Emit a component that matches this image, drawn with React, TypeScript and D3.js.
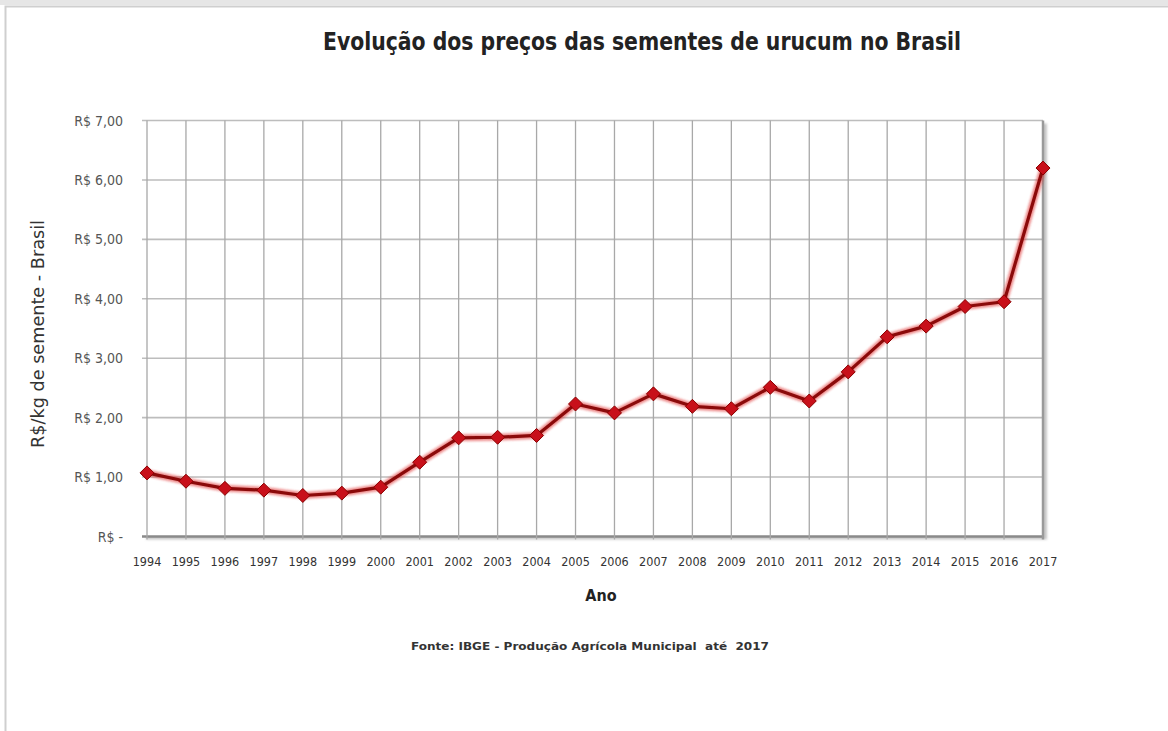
import React from "react";
import * as d3 from "d3";

const years: string[] = [
  "1994","1995","1996","1997","1998","1999","2000","2001","2002","2003","2004","2005",
  "2006","2007","2008","2009","2010","2011","2012","2013","2014","2015","2016","2017",
];
const prices: number[] = [
  1.07, 0.93, 0.81, 0.78, 0.69, 0.73, 0.83, 1.25, 1.66, 1.67, 1.70, 2.23,
  2.08, 2.40, 2.19, 2.15, 2.51, 2.28, 2.77, 3.36, 3.54, 3.87, 3.95, 6.20,
];
const yTicks: number[] = [0, 1, 2, 3, 4, 5, 6, 7];

const title = "Evolução dos preços das sementes de urucum no Brasil";
const yTitle = "R$/kg de semente - Brasil";
const xTitle = "Ano";
const source = "Fonte: IBGE - Produção Agrícola Municipal  até  2017";

const W = 1168;
const H = 731;
const plotLeft = 142;
const plotRight = 1043;
const plotTop = 120.5;
const plotBottom = 536.5;

function fmt(v: number): string {
  if (v === 0) return "R$ -";
  return "R$ " + v.toFixed(2).replace(".", ",");
}

export default function App() {
  const x = d3.scalePoint<string>().domain(years).range([147, 1043]);
  const y = d3.scaleLinear().domain([0, 7]).range([plotBottom, plotTop]);
  const line = d3
    .line<number>()
    .x((_, i) => x(years[i]) as number)
    .y((d) => y(d));
  const path = line(prices) || "";
  const font = "'Liberation Sans Narrow', 'DejaVu Sans Condensed', 'Open Sans', sans-serif";
  const diamond = (cx: number, cy: number, r: number) =>
    `M${cx},${cy - r}L${cx + r},${cy}L${cx},${cy + r}L${cx - r},${cy}Z`;

  return (
    <svg
      width={W}
      height={H}
      style={{ position: "absolute", left: 0, top: 0, background: "#fff" }}
    >
      <defs>
        <filter id="glow" x="-20%" y="-20%" width="140%" height="140%">
          <feGaussianBlur stdDeviation="1.2" />
        </filter>
      </defs>
      {/* outer frame */}
      <rect x={0} y={0} width={W} height={5} fill="#e6e6e6" />
      <rect x={5.5} y={6.5} width={W + 10} height={H + 10} fill="none" stroke="#cfcfcf" strokeWidth={2} />

      {/* title */}
      <text
        x={642}
        y={50}
        textAnchor="middle"
        fontFamily={font}
        fontWeight="bold"
        fontSize={24}
        fill="#222"
        textLength={638}
        lengthAdjust="spacingAndGlyphs"
      >
        {title}
      </text>

      {/* plot shadow */}
      <rect x={plotLeft + 4} y={plotTop + 3} width={plotRight - plotLeft} height={plotBottom - plotTop} fill="#c8c8c8" filter="url(#glow)" />
      <rect x={plotLeft} y={plotTop} width={plotRight - plotLeft} height={plotBottom - plotTop} fill="#fff" />

      {/* horizontal grid */}
      {yTicks.map((t) => (
        <line
          key={"h" + t}
          x1={plotLeft}
          x2={plotRight}
          y1={y(t)}
          y2={y(t)}
          stroke={t === 0 ? "#8a8a8a" : "#bdbdbd"}
          strokeWidth={t === 0 ? 2.5 : 1.6}
        />
      ))}
      {/* vertical grid */}
      {years.map((yr) => (
        <line
          key={"v" + yr}
          x1={x(yr)}
          x2={x(yr)}
          y1={plotTop}
          y2={plotBottom + 3}
          stroke={yr === "2017" ? "#9a9a9a" : "#a8a8a8"}
          strokeWidth={yr === "2017" ? 2.5 : 1.3}
        />
      ))}

      {/* y tick labels */}
      {yTicks.map((t) => (
        <text
          key={"yl" + t}
          x={123}
          y={y(t) + 5}
          textAnchor="end"
          fontFamily={font}
          fontSize={14}
          fill="#555"
        >
          {fmt(t)}
        </text>
      ))}

      {/* x tick labels */}
      {years.map((yr) => (
        <text
          key={"xl" + yr}
          x={x(yr)}
          y={566}
          textAnchor="middle"
          fontFamily={font}
          fontSize={12.5}
          fill="#333"
        >
          {yr}
        </text>
      ))}

      {/* axis titles */}
      <text
        transform={`translate(44,${334}) rotate(-90)`}
        textAnchor="middle"
        fontFamily={font}
        fontSize={17}
        fill="#333"
        textLength={228}
        lengthAdjust="spacingAndGlyphs"
      >
        {yTitle}
      </text>
      <text x={601} y={601} textAnchor="middle" fontFamily={font} fontWeight="bold" fontSize={16} fill="#222">
        {xTitle}
      </text>
      <text
        x={590}
        y={650}
        textAnchor="middle"
        fontFamily={font}
        fontWeight="bold"
        fontSize={10.5}
        fill="#333"
        textLength={358}
        lengthAdjust="spacingAndGlyphs"
        style={{ whiteSpace: "pre" }}
      >
        {source}
      </text>

      {/* series */}
      <path d={path} fill="none" stroke="#e03030" strokeWidth={7} strokeOpacity={0.55} strokeLinejoin="round" filter="url(#glow)" />
      <path d={path} fill="none" stroke="#8b0a0a" strokeWidth={3.2} strokeLinejoin="round" />
      {prices.map((v, i) => (
        <path
          key={"m" + i}
          d={diamond(x(years[i]) as number, y(v), 7)}
          fill="#c8101a"
          stroke="#8b0000"
          strokeWidth={1}
        />
      ))}
    </svg>
  );
}
